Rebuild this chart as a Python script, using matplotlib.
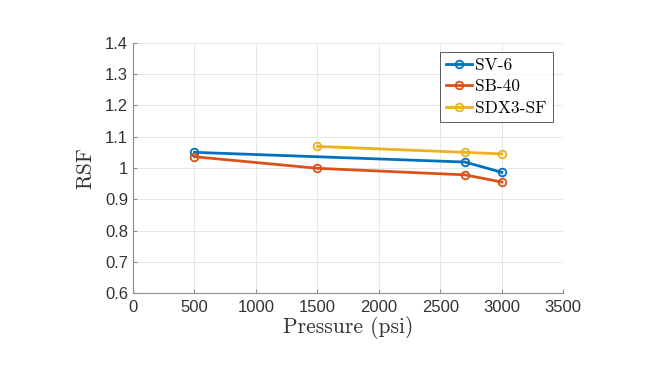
import matplotlib.pyplot as plt
import numpy as np

# data
sv6_p = [500, 2700, 3000]
sv6_rsf = [1.05, 1.019, 0.986]
sb40_p = [500, 1500, 2700, 3000]
sb40_rsf = [1.036, 0.999, 0.978, 0.955]
sdx_p = [1500, 2700, 3000]
sdx_rsf = [1.069, 1.050, 1.045]

fig = plt.figure(figsize=(6.6, 3.7), dpi=100)
ax = fig.add_axes([0.2015, 0.208, 0.652, 0.676])

kw = dict(lw=2, marker='o', markersize=5.5, markerfacecolor='none', markeredgewidth=1.3)
ax.plot(sv6_p, sv6_rsf, color='#0072BD', label='SV-6', **kw)
ax.plot(sb40_p, sb40_rsf, color='#D95319', label='SB-40', **kw)
ax.plot(sdx_p, sdx_rsf, color='#EDB120', label='SDX3-SF', **kw)

ax.set_xlim(0, 3500)
ax.set_ylim(0.6, 1.4)
ax.set_xticks(np.arange(0, 3501, 500))
ax.set_yticks(np.arange(0.6, 1.41, 0.1))
ax.set_yticklabels(['0.6', '0.7', '0.8', '0.9', '1', '1.1', '1.2', '1.3', '1.4'])
ax.tick_params(direction='in', length=3, labelsize=12, colors='#8c8c8c', labelcolor='#333333')
ax.tick_params(axis='x', pad=5)
for lab in ax.get_xticklabels() + ax.get_yticklabels():
    lab.set_family('Liberation Sans')
ax.grid(True, color='#e6e6e6', lw=0.7)
ax.spines['top'].set_visible(False)
ax.spines['right'].set_visible(False)
ax.spines['left'].set_color('#8c8c8c')
ax.spines['bottom'].set_color('#8c8c8c')

ax.set_xlabel('Pressure (psi)', fontsize=15.5, family='cmr10', color='#333333', labelpad=1)
ax.set_ylabel('RSF', fontsize=15.5, family='cmr10', color='#333333', labelpad=7)

leg = ax.legend(loc='upper right', bbox_to_anchor=(0.975, 0.965), prop={'family': 'cmr10', 'size': 12.5},
                fancybox=False, edgecolor='#333333', handlelength=1.5, handletextpad=0.15,
                borderpad=0.35, labelspacing=0.35, borderaxespad=0)
leg.get_frame().set_linewidth(0.7)

fig.savefig('out.png', dpi=100)
